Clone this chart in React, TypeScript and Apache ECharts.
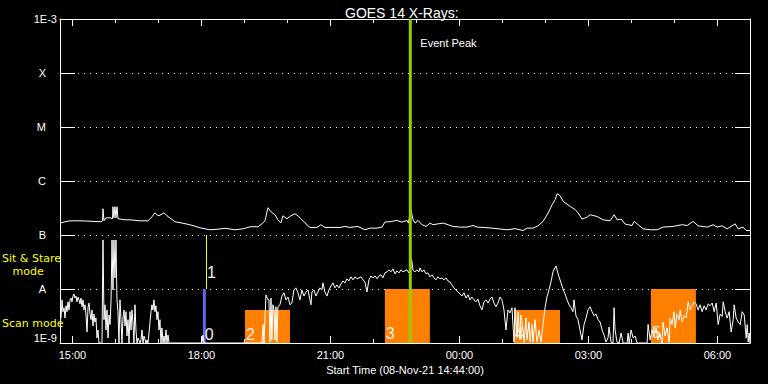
import React, { useEffect, useRef } from "react";
import * as echarts from "echarts";

const FONT = "'Liberation Sans', Arial, sans-serif";
const FONT_WIDE = "'DejaVu Sans', 'Liberation Sans', sans-serif";

// time axis: minutes after the start time 08-Nov-21 14:44:00
const START_CLOCK_MIN = 884;
const X_MIN = -1.4;
const X_MAX = 961.4;
const majorTicks = [16, 196, 376, 556, 736, 916];
const hourTicks = [16, 76, 136, 196, 256, 316, 376, 436, 496, 556, 616, 676, 736, 796, 856, 916];

// flux axis labels per decade, 1e-9 .. 1e-3
const decadeLabels = ["1E-9", "A", "B", "C", "M", "X", "1E-3"];

// long-wavelength channel
const longTime = [
  0, 5.6, 12.6, 26.5, 40.5, 55.8, 57.9, 58.6, 60, 62.8,
  68.4, 71.9, 72.5, 73.9, 75.3, 76.7, 78.1, 79.5, 89.3, 96.3,
  110.2, 121.4, 127, 131.1, 135.3, 139.5, 143.7, 147.9, 153.5, 159,
  170.2, 179.9, 193.9, 207.8, 219, 228.8, 242.7, 253.9, 263.7, 274.8,
  280.4, 284.6, 288.8, 293, 298.5, 302.7, 306.9, 309.7, 315.3, 320.9,
  326.4, 330.6, 334.8, 340.4, 347.4, 357.1, 362.7, 368.3, 389.2, 396.2,
  403.2, 414.3, 424.1, 431.1, 440.8, 447.8, 452, 461.7, 468.7, 475.7,
  482.7, 484.8, 487.9, 491.3, 494, 498.3, 503.9, 509.4, 515, 519.2,
  526.2, 533.2, 540.2, 547.1, 556.9, 566.6, 575, 580.6, 589, 601.5,
  612.7, 622.5, 633.6, 644.8, 650.4, 658.7, 665.7, 672.7, 679.7, 685.3,
  689.5, 692.3, 696.5, 700.7, 710.5, 717.4, 721.6, 727.2, 734.2, 738.4,
  748.1, 756.5, 766.2, 771.8, 776, 781.6, 787.2, 796.9, 799.7, 805.3,
  812.3, 822.1, 831.8, 840.2, 854.1, 866.7, 873.7, 882, 889, 901.6,
  910, 915.5, 922.5, 929.5, 940.7, 944.9, 951.8, 956, 961.4,
];
const longFlux = [
  1.68e-7, 1.76e-7, 1.83e-7, 1.83e-7, 1.8e-7, 1.76e-7, 1.83e-7, 3.06e-7, 1.83e-7, 2.08e-7,
  2.08e-7, 2.0e-7, 3.34e-7, 2.08e-7, 3.34e-7, 2.08e-7, 3.34e-7, 2.0e-7, 1.91e-7, 1.91e-7,
  1.83e-7, 1.83e-7, 2.18e-7, 2.58e-7, 2.27e-7, 2.37e-7, 2.58e-7, 2.27e-7, 2.0e-7, 1.76e-7,
  1.65e-7, 1.55e-7, 1.36e-7, 1.25e-7, 1.28e-7, 1.33e-7, 1.25e-7, 1.3e-7, 1.42e-7, 1.42e-7,
  1.61e-7, 1.83e-7, 3.2e-7, 2.69e-7, 2.37e-7, 1.91e-7, 1.68e-7, 2.27e-7, 2.0e-7, 2.27e-7,
  2.48e-7, 2.27e-7, 2.0e-7, 1.68e-7, 1.38e-7, 1.38e-7, 1.55e-7, 1.38e-7, 1.38e-7, 1.44e-7,
  1.38e-7, 1.44e-7, 1.25e-7, 1.34e-7, 1.34e-7, 1.4e-7, 1.73e-7, 1.79e-7, 1.86e-7, 1.73e-7,
  1.86e-7, 1.66e-7, 3.03e-7, 1.91e-7, 1.66e-7, 1.86e-7, 1.55e-7, 1.44e-7, 1.66e-7, 1.55e-7,
  1.61e-7, 1.66e-7, 1.55e-7, 1.44e-7, 1.4e-7, 1.4e-7, 1.5e-7, 1.4e-7, 1.38e-7, 1.34e-7,
  1.29e-7, 1.25e-7, 1.31e-7, 1.21e-7, 1.34e-7, 1.34e-7, 1.48e-7, 1.79e-7, 2.55e-7, 3.63e-7,
  4.5e-7, 5.81e-7, 5.34e-7, 4.2e-7, 3.38e-7, 2.96e-7, 2.55e-7, 1.97e-7, 2.15e-7, 2.37e-7,
  2.2e-7, 1.91e-7, 1.83e-7, 2.37e-7, 1.91e-7, 1.97e-7, 1.59e-7, 1.5e-7, 1.79e-7, 1.55e-7,
  1.3e-7, 1.25e-7, 1.25e-7, 1.4e-7, 1.44e-7, 1.55e-7, 1.5e-7, 1.79e-7, 1.48e-7, 1.4e-7,
  1.55e-7, 1.4e-7, 1.48e-7, 1.3e-7, 1.61e-7, 1.3e-7, 1.4e-7, 1.21e-7, 1.21e-7,
];

// short-wavelength channel: [minutes after start, flux]
const shortChannel = [
  [0, 2.9e-9], [1.4, 6.3e-9], [2.8, 3.8e-9], [4.2, 4.5e-9], [5.6, 2.9e-9], [7, 4.9e-9], [8.4, 3.8e-9], [9.8, 5.8e-9], [11.2, 4.1e-9], [12.6, 6.3e-9],
  [14, 6.8e-9], [15.3, 5.8e-9], [16.7, 7.4e-9], [18.1, 8.1e-9], [19.5, 6.8e-9], [20.9, 7.4e-9], [22.3, 5.8e-9], [23.7, 7.1e-9], [25.1, 6.3e-9], [26.5, 5.3e-9],
  [27.9, 6.8e-9], [29.3, 4.7e-9], [30.7, 6.3e-9], [32.1, 4.1e-9], [33.5, 5.1e-9], [34.9, 3.3e-9], [36.3, 1.6e-9], [37.7, 4.5e-9], [39.1, 5.5e-9], [40.5, 3.45e-9],
  [41.9, 2.7e-9], [43.2, 4.1e-9], [44.6, 2.07e-9], [46, 3.45e-9], [47.4, 2.45e-9], [48.8, 2.9e-9], [50.2, 1.24e-9], [51.6, 1.74e-9], [53, 1e-9], [57.2, 1e-9],
  [58.6, 8.1e-8], [60, 2.7e-9], [61.4, 5.1e-9], [62.8, 1.74e-9], [64.2, 4.1e-9], [65.6, 1.24e-9], [67, 3.3e-9], [68.4, 2.2e-9], [69.8, 5.8e-9], [71.2, 8.1e-8],
  [72.5, 9.6e-9], [73.9, 8.1e-8], [75.3, 1.61e-8], [76.7, 8.1e-8], [78.1, 6.3e-9], [79.5, 3.8e-9], [80.9, 1e-9], [82.3, 6.3e-9], [83.7, 2.7e-9], [85.1, 1e-9],
  [86.5, 2.9e-9], [87.9, 4.1e-9], [89.3, 2.07e-9], [90.7, 3.8e-9], [92.1, 1.35e-9], [93.5, 2.7e-9], [94.9, 1e-9], [96.3, 3.8e-9], [97.7, 1.74e-9], [99, 4.1e-9],
  [100.4, 2.45e-9], [101.8, 1e-9], [103.2, 5.1e-9], [104.6, 1.74e-9], [106, 1e-9], [107.4, 1.24e-9], [110.2, 1e-9], [111.6, 1.14e-9], [113, 1.74e-9], [114.4, 1e-9],
  [115.8, 1.35e-9], [118.6, 1e-9], [120, 1.14e-9], [121.4, 1e-9], [122.8, 1.53e-9], [124.2, 2.45e-9], [125.6, 3.8e-9], [126.9, 5.1e-9], [128.3, 4.1e-9], [129.7, 6.3e-9],
  [131.1, 3.8e-9], [132.5, 4.9e-9], [133.9, 2.7e-9], [135.3, 3.8e-9], [136.7, 1.74e-9], [138.1, 2.7e-9], [139.5, 1e-9], [140.9, 1.9e-9], [142.3, 1e-9], [143.7, 1.35e-9],
  [145.1, 1e-9], [146.5, 1.74e-9], [147.9, 1e-9], [149.3, 1.4e-9], [150.7, 1e-9], [196.7, 1e-9], [198.1, 1.4e-9], [199.5, 1e-9], [280.4, 1e-9], [281.8, 2.2e-9],
  [283.2, 1e-9], [284.6, 2.7e-9], [286, 7.8e-9], [288.8, 6.3e-9], [290.2, 6.3e-9], [291.6, 1.04e-9], [293, 6.8e-9], [294.3, 1.14e-9], [295.7, 5.1e-9], [297.1, 4.1e-9],
  [298.5, 1.14e-9], [299.9, 4.7e-9], [301.3, 1.04e-9], [302.7, 4.7e-9], [305.5, 5.1e-9], [308.3, 7.4e-9], [311.1, 8.5e-9], [313.9, 6.3e-9], [316.7, 7.1e-9], [319.5, 5.1e-9],
  [322.2, 5.5e-9], [325, 9.6e-9], [327.8, 1.05e-8], [330.6, 8.5e-9], [333.4, 6.3e-9], [336.2, 9.6e-9], [339, 7.4e-9], [341.8, 8.8e-9], [344.6, 9.6e-9], [347.4, 6.3e-9],
  [348.8, 5.1e-9], [350.1, 8.8e-9], [352.9, 9.6e-9], [355.7, 7.4e-9], [358.5, 8.8e-9], [361.3, 1.05e-8], [364.1, 9.6e-9], [365.5, 1.3e-8], [368.3, 8.8e-9], [371.1, 7.4e-9],
  [373.9, 9.6e-9], [376.7, 1.14e-8], [379.5, 1.3e-8], [382.3, 1.05e-8], [385.1, 1.19e-8], [387.9, 1.05e-8], [390.6, 1.24e-8], [393.4, 1.41e-8], [396.2, 1.3e-8], [399, 1.54e-8],
  [401.8, 1.41e-8], [404.6, 1.68e-8], [407.4, 1.48e-8], [410.2, 1.68e-8], [413, 1.54e-8], [415.8, 1.61e-8], [418.6, 1.68e-8], [421.4, 1.48e-8], [424.1, 1.35e-8], [426.9, 8.8e-9],
  [429.7, 1.48e-8], [432.5, 1.75e-8], [435.3, 1.61e-8], [438.1, 1.75e-8], [440.9, 1.54e-8], [443.7, 1.75e-8], [446.5, 1.83e-8], [449.3, 1.61e-8], [452, 1.99e-8], [454.8, 2.08e-8],
  [457.6, 2.26e-8], [460.4, 2.08e-8], [463.2, 2.36e-8], [466, 1.91e-8], [468.8, 2.17e-8], [471.6, 1.99e-8], [474.4, 2.26e-8], [477.2, 2.08e-8], [480, 2.17e-8], [482.7, 2.26e-8],
  [485.5, 1.99e-8], [486.9, 2.46e-8], [489.3, 3.47e-8], [491.1, 2.26e-8], [493.9, 2.08e-8], [496.7, 2.26e-8], [499.5, 2.08e-8], [500.9, 2.46e-8], [503.7, 2.08e-8], [506.5, 2.26e-8],
  [509.2, 1.91e-8], [512, 1.99e-8], [514.8, 1.68e-8], [517.6, 1.83e-8], [520.4, 1.61e-8], [523.2, 1.48e-8], [526, 1.68e-8], [528.8, 1.54e-8], [531.6, 1.61e-8], [534.4, 1.48e-8],
  [537.2, 1.61e-8], [540, 1.41e-8], [542.7, 1.35e-8], [545.5, 1.19e-8], [548.3, 1.05e-8], [551.1, 9.6e-9], [553.9, 8.8e-9], [556.7, 8.1e-9], [559.5, 7.4e-9], [562.3, 8.5e-9],
  [565.1, 6.8e-9], [567.9, 7.8e-9], [570.7, 6.3e-9], [573.4, 7.1e-9], [576.2, 6.3e-9], [579, 5.8e-9], [581.8, 6.5e-9], [584.6, 4.9e-9], [587.4, 4.1e-9], [590.2, 5.8e-9],
  [593, 6.3e-9], [595.8, 5.5e-9], [598.6, 6.5e-9], [601.4, 7.1e-9], [604.1, 5.5e-9], [606.9, 4.7e-9], [609.7, 5.5e-9], [612.5, 7.1e-9], [615.3, 6.3e-9], [618.1, 4.1e-9],
  [620.9, 1.74e-9], [623.7, 4.1e-9], [626.5, 3.6e-9], [629.3, 4.5e-9], [632.1, 1.04e-9], [633.5, 4.5e-9], [636.3, 1.24e-9], [637.7, 3.8e-9], [640.4, 1.14e-9], [641.8, 3.3e-9],
  [644.6, 1.74e-9], [646, 1.04e-9], [648.8, 2.9e-9], [650.2, 1.14e-9], [653, 2.45e-9], [654.4, 1.04e-9], [657.2, 2.2e-9], [658.6, 1.04e-9], [661.4, 2.7e-9], [664.2, 1.04e-9],
  [667, 1.74e-9], [669.8, 1.04e-9], [672.6, 2.2e-9], [675.4, 4.5e-9], [678.1, 7.1e-9], [680.9, 9.6e-9], [683.7, 1.35e-8], [686.5, 2.08e-8], [689.3, 2.46e-8], [690.7, 2.68e-8],
  [692.1, 2.26e-8], [694.9, 1.68e-8], [697.7, 1.3e-8], [700.5, 1e-8], [703.3, 8.1e-9], [706.1, 6.3e-9], [708.9, 5.1e-9], [711.6, 4.5e-9], [714.4, 3.8e-9], [715.8, 6.3e-9],
  [718.6, 3.17e-9], [721.4, 2.7e-9], [724.2, 1.74e-9], [727, 1.14e-9], [729.8, 2.2e-9], [732.6, 2.9e-9], [735.4, 4.1e-9], [738.2, 4.7e-9], [741, 3.8e-9], [743.8, 3.2e-9],
  [746.6, 3.45e-9], [749.4, 2.7e-9], [752.2, 2.45e-9], [755, 1.74e-9], [757.8, 1.4e-9], [760.5, 1.04e-9], [763.3, 1.24e-9], [764.7, 1.98e-9], [767.5, 1.04e-9], [770.3, 1e-9],
  [771.7, 4.5e-9], [773.1, 1.74e-9], [775.9, 1.04e-9], [778.7, 1e-9], [781.5, 1.53e-9], [784.3, 1e-9], [789.9, 1e-9], [791.3, 1.53e-9], [792.7, 1e-9], [795.5, 1.74e-9],
  [798.3, 1.24e-9], [801, 1.35e-9], [803.8, 1e-9], [817.8, 1e-9], [819.2, 2.2e-9], [822, 1.14e-9], [824.8, 1.74e-9], [827.6, 1.35e-9], [830.4, 1.9e-9], [833.2, 1.14e-9],
  [836, 1.47e-9], [838.7, 1e-9], [840.1, 2.45e-9], [842.9, 1.35e-9], [845.7, 1.9e-9], [848.5, 1.04e-9], [849.9, 2.9e-9], [852.7, 2.2e-9], [855.5, 3.8e-9], [856.9, 1.9e-9],
  [859.7, 3.45e-9], [862.5, 2.7e-9], [863.9, 4.1e-9], [866.7, 2.45e-9], [869.5, 3.2e-9], [872.3, 2.9e-9], [875.1, 5.8e-9], [877.9, 4.1e-9], [880.7, 4.9e-9], [883.5, 5.8e-9],
  [886.2, 5.3e-9], [889, 4.1e-9], [891.8, 5.1e-9], [894.6, 3.8e-9], [897.4, 4.9e-9], [900.2, 4.1e-9], [903, 5.3e-9], [905.8, 4.9e-9], [908.6, 5.5e-9], [911.4, 3.8e-9],
  [914.2, 5.5e-9], [917, 2.2e-9], [919.8, 3.45e-9], [922.6, 3.1e-9], [924, 5.8e-9], [926.8, 3.8e-9], [929.5, 2.9e-9], [932.3, 3.8e-9], [935.1, 1.6e-9], [937.9, 2.7e-9],
  [939.3, 5.1e-9], [942.1, 2.9e-9], [944.9, 2.45e-9], [947.7, 2.2e-9], [950.5, 3.8e-9], [953.3, 3.3e-9], [956.1, 1.24e-9], [957.5, 2.2e-9], [958.9, 1.04e-9], [960.3, 1.53e-9],
  [961.4, 1e-9],
];

// observation markers (sit & stare / scan mode)
const obsLabel = ["0", "1", "2", "3", "4", "5"];
const obsKind = ["bar", "line", "block", "block", "block", "block"];
const obsStart = [200, 203, 256.7, 451.9, 632.1, 823.1];
const obsEnd = [200, 203, 319.5, 514.7, 696.3, 885.9];
const obsBase = [1e-9, 1e-8, 1e-9, 1e-9, 1e-9, 1e-9];
const obsTop = [1e-8, 1e-7, 4.1e-9, 1e-8, 4.1e-9, 1e-8];
const obsColor = ["#6464f0", "#ffff00", "#ff8000", "#ff8000", "#ff8000", "#ff8000"];
const obsLabelLift = [9, 17, 9, 10, 10, 11];

const eventPeakTime = [487.4];

function pad2(n: number) {
  return n < 10 ? "0" + n : String(n);
}
function clockLabel(t: number) {
  const total = Math.round(START_CLOCK_MIN + t);
  const h = Math.floor(total / 60) % 24;
  const m = total % 60;
  return pad2(h) + ":" + pad2(m);
}

export default function App() {
  const ref = useRef<HTMLDivElement>(null);

  useEffect(() => {
    if (!ref.current) return;
    const chart = echarts.init(ref.current, null, { renderer: "svg" });

    const white = "#ffffff";
    const baseXAxis = {
      type: "value",
      min: X_MIN,
      max: X_MAX,
      splitLine: { show: false },
    };
    const yellowText = { fill: "#ffff00", fontSize: 11, lineHeight: 13, fontFamily: FONT_WIDE };

    const option: any = {
      backgroundColor: "#000000",
      animation: false,
      title: {
        text: "GOES 14 X-Rays:",
        left: 340,
        top: 1,
        textStyle: { color: white, fontSize: 14, fontWeight: "normal", fontFamily: FONT },
      },
      grid: { left: 60, right: 18, top: 19, bottom: 41, containLabel: false },
      xAxis: [
        {
          ...baseXAxis,
          position: "bottom",
          axisLine: { show: true, onZero: false, lineStyle: { color: white, width: 1 } },
          axisTick: { show: true, inside: true, length: 7, customValues: majorTicks, lineStyle: { color: white } },
          axisLabel: {
            show: true,
            customValues: majorTicks,
            formatter: (v: number) => clockLabel(v),
            color: white,
            fontSize: 11,
            fontFamily: FONT,
            margin: 6,
          },
          name: "Start Time (08-Nov-21 14:44:00)",
          nameLocation: "middle",
          nameGap: 18,
          nameTextStyle: { color: white, fontSize: 11, fontFamily: FONT },
        },
        {
          ...baseXAxis,
          position: "bottom",
          axisLine: { show: false, onZero: false },
          axisTick: { show: true, inside: true, length: 4, customValues: hourTicks, lineStyle: { color: white } },
          axisLabel: { show: false },
        },
        {
          ...baseXAxis,
          position: "top",
          axisLine: { show: true, onZero: false, lineStyle: { color: white, width: 1 } },
          axisTick: { show: true, inside: true, length: 7, customValues: majorTicks, lineStyle: { color: white } },
          axisLabel: { show: false },
        },
        {
          ...baseXAxis,
          position: "top",
          axisLine: { show: false, onZero: false },
          axisTick: { show: true, inside: true, length: 4, customValues: hourTicks, lineStyle: { color: white } },
          axisLabel: { show: false },
        },
      ],
      yAxis: [
        {
          type: "log",
          logBase: 10,
          min: 1e-9,
          max: 1e-3,
          interval: 1,
          position: "left",
          axisLine: { show: true, onZero: false, lineStyle: { color: white, width: 1 } },
          axisTick: { show: true, inside: true, length: 15, lineStyle: { color: white } },
          axisLabel: {
            show: true,
            margin: 3,
            verticalAlignMaxLabel: "top",
            verticalAlignMinLabel: "bottom",
            formatter: (v: number) => {
              const e = Math.round(Math.log10(v));
              const txt = decadeLabels[e + 9] ?? "";
              return e === -9 || e === -3 ? "{e|" + txt + "}" : "{l|" + txt + "}";
            },
            rich: {
              e: { color: white, fontSize: 11, fontFamily: FONT },
              l: { color: white, fontSize: 11, fontFamily: FONT, padding: [0, 11, 0, 0] },
            },
          },
          splitLine: { show: true, lineStyle: { color: white, width: 1, type: [1, 5] } },
        },
        {
          type: "log",
          logBase: 10,
          min: 1e-9,
          max: 1e-3,
          interval: 1,
          position: "right",
          axisLine: { show: true, onZero: false, lineStyle: { color: white, width: 1 } },
          axisTick: { show: true, inside: true, length: 15, lineStyle: { color: white } },
          axisLabel: { show: false },
          splitLine: { show: false },
        },
      ],
      graphic: [
        { type: "text", left: 2, top: 252, style: { text: "Sit & Stare\n   mode", ...yellowText } },
        { type: "text", left: 2, top: 317, style: { text: "Scan mode", ...yellowText } },
      ],
      series: [
        {
          type: "custom",
          name: "observations",
          xAxisIndex: 0,
          yAxisIndex: 0,
          z: 1,
          clip: false,
          data: obsStart.map((s, i) => [s, obsEnd[i], obsBase[i], obsTop[i]]),
          encode: { x: [0, 1], y: [2, 3] },
          renderItem: (params: any, api: any) => {
            const i = params.dataIndex;
            const pA = api.coord([api.value(0), api.value(2)]);
            const pB = api.coord([api.value(1), api.value(3)]);
            const kind = obsKind[i];
            const children: any[] = [];
            if (kind === "bar") {
              children.push({
                type: "rect",
                shape: { x: pA[0] - 1.5, y: pB[1], width: 3, height: pA[1] - pB[1] },
                style: { fill: obsColor[i] },
              });
            } else if (kind === "line") {
              children.push({
                type: "line",
                shape: { x1: pA[0], y1: pA[1], x2: pA[0], y2: pB[1] },
                style: { stroke: obsColor[i], lineWidth: 1 },
              });
            } else {
              children.push({
                type: "rect",
                shape: { x: pA[0], y: pB[1], width: pB[0] - pA[0], height: pA[1] - pB[1] },
                style: { fill: obsColor[i] },
              });
            }
            children.push({
              type: "text",
              x: pA[0] + (kind === "block" ? 1 : 0.5),
              y: pA[1] - obsLabelLift[i],
              style: {
                text: obsLabel[i],
                fill: "#f0f0f0",
                fontSize: 16,
                fontFamily: FONT,
                align: "left",
                verticalAlign: "middle",
              },
            });
            return { type: "group", children };
          },
        },
        {
          type: "line",
          name: "long",
          xAxisIndex: 0,
          yAxisIndex: 0,
          z: 2,
          data: longTime.map((t, i) => [t, longFlux[i]]),
          showSymbol: false,
          symbol: "none",
          lineStyle: { color: white, width: 1 },
          silent: true,
        },
        {
          type: "line",
          name: "short",
          xAxisIndex: 0,
          yAxisIndex: 0,
          z: 2,
          data: shortChannel,
          showSymbol: false,
          symbol: "none",
          lineStyle: { color: white, width: 1 },
          silent: true,
        },
        {
          type: "custom",
          name: "event",
          xAxisIndex: 0,
          yAxisIndex: 0,
          z: 3,
          clip: false,
          data: eventPeakTime.map((t) => [t, 1e-6]),
          encode: { x: 0, y: 1 },
          renderItem: (params: any, api: any) => {
            const cs = params.coordSys;
            const p = api.coord([api.value(0), api.value(1)]);
            return {
              type: "group",
              children: [
                {
                  type: "line",
                  shape: { x1: p[0], y1: cs.y, x2: p[0], y2: cs.y + cs.height },
                  style: { stroke: "#99cc00", lineWidth: 3 },
                },
                {
                  type: "text",
                  x: p[0] + 10,
                  y: cs.y + 24,
                  style: {
                    text: "Event Peak",
                    fill: white,
                    fontSize: 11,
                    fontFamily: FONT,
                    align: "left",
                    verticalAlign: "middle",
                  },
                },
              ],
            };
          },
        },
      ],
    };

    chart.setOption(option);
    return () => {
      chart.dispose();
    };
  }, []);

  return (
    <div
      ref={ref}
      style={{ position: "absolute", left: 0, top: 0, width: 768, height: 384, background: "#000" }}
    />
  );
}
